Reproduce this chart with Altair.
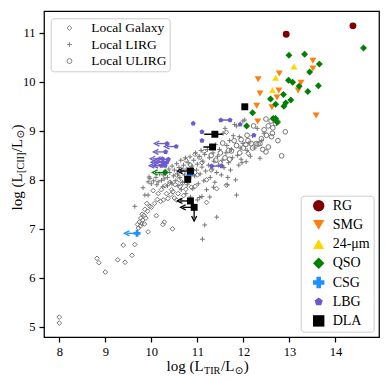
import altair as alt
import pandas as pd

# ---------------- Local samples (gray) ----------------
gal_x = [8.00, 8.00, 8.82, 8.86, 9.00, 9.27, 9.43, 9.58, 9.39, 9.64, 9.93, 10.46, 10.28, 10.25, 10.11,
         9.72, 9.70, 9.76, 9.74, 9.79, 9.81, 9.77, 9.85, 9.84, 9.88, 9.80, 9.86, 9.90, 9.97, 9.92, 10.00,
         10.07, 10.13, 10.20, 10.26, 10.36, 10.42, 10.50, 10.55, 10.63, 10.58, 10.70, 11.20,
         10.04, 10.15, 10.22, 10.33, 10.44, 10.47, 10.62, 10.75, 10.87, 10.95, 10.68, 10.80, 10.52, 10.30, 10.40,
         10.60, 10.70, 10.80, 10.90, 11.00, 11.10, 11.20, 11.30, 10.85, 11.05, 10.75, 10.95, 11.15, 11.42, 11.63,
         12.10, 11.63, 11.50, 10.55, 10.65]
gal_y = [5.20, 5.08, 6.40, 6.31, 6.12, 6.37, 6.32, 6.46, 6.67, 6.68, 6.94, 7.00, 7.14, 7.09, 7.27,
         7.02, 7.09, 7.06, 7.14, 7.11, 7.18, 7.22, 7.10, 7.28, 7.22, 7.30, 7.40, 7.52, 7.46, 7.36, 7.44,
         7.52, 7.60, 7.56, 7.59, 7.62, 7.70, 7.63, 7.59, 7.58, 7.72, 7.68, 7.54,
         7.78, 7.72, 7.80, 7.72, 7.80, 7.76, 7.86, 7.81, 7.85, 7.87, 7.93, 7.96, 7.90, 7.88, 7.95,
         8.00, 8.15, 8.06, 8.20, 8.10, 8.35, 8.00, 8.20, 8.30, 8.45, 8.40, 8.52, 8.58, 7.82, 7.89,
         8.54, 8.97, 8.35, 8.10, 8.22]

lirg_x = [9.64, 9.82, 9.86, 9.93, 9.97, 9.93, 10.00, 9.95,
          10.05, 10.10, 10.15, 10.18, 10.22, 10.26, 10.28, 10.12, 10.30, 10.25,
          10.35, 10.38, 10.40, 10.42, 10.45, 10.48, 10.50, 10.52, 10.55, 10.57, 10.58, 10.60, 10.45, 10.35,
          10.62, 10.64, 10.66, 10.68, 10.70, 10.72, 10.74, 10.76, 10.78, 10.80, 10.82, 10.84, 10.86, 10.88, 10.90, 10.65, 10.75, 10.85,
          10.92, 10.94, 10.96, 10.98, 11.00, 11.02, 11.04, 11.06, 11.08, 11.10, 11.12, 11.14, 11.16, 11.18, 11.05, 11.10, 11.16, 11.11, 11.20, 11.00,
          11.22, 11.24, 11.26, 11.28, 11.30, 11.32, 11.34, 11.36, 11.38, 11.40, 11.42, 11.44, 11.46, 11.48, 11.27, 11.42, 11.35,
          11.52, 11.54, 11.56, 11.58, 11.60, 11.62, 11.64, 11.66, 11.68, 11.70, 11.72, 11.74, 11.76, 11.78, 11.65,
          11.81, 11.83, 11.85, 11.85, 11.87, 11.90, 11.91, 11.93, 11.95, 11.97, 11.99, 11.99, 12.03, 12.06, 12.08,
          12.12, 12.15, 12.20, 12.25, 12.30, 12.36, 12.40, 12.45]
lirg_y = [7.46, 7.84, 7.69, 7.69, 8.03, 7.96, 7.92, 8.06,
          7.98, 8.05, 7.96, 8.12, 7.99, 8.10, 8.02, 7.90, 8.18, 7.86,
          8.05, 8.22, 8.15, 7.95, 8.28, 8.08, 8.20, 7.98, 8.33, 8.12, 7.88, 8.25, 7.92, 7.88,
          8.05, 8.40, 8.18, 7.95, 8.30, 8.10, 8.45, 8.22, 7.90, 8.35, 8.02, 8.47, 8.15, 8.28, 7.82, 7.80, 7.72, 7.65,
          8.40, 8.08, 8.55, 8.20, 8.32, 7.92, 8.48, 8.12, 8.60, 8.26, 8.38, 7.98, 8.52, 8.18, 7.64, 7.66, 7.08, 6.79, 7.80, 7.59,
          8.62, 8.30, 8.45, 8.05, 8.68, 8.22, 8.55, 8.38, 7.95, 8.72, 8.15, 8.48, 8.30, 8.62, 7.65, 7.24, 7.85,
          8.10, 8.40, 8.95, 8.25, 9.05, 8.55, 8.70, 8.05, 8.35, 8.80, 8.20, 8.62, 8.45, 8.90, 7.90,
          9.13, 8.00, 9.10, 7.69, 8.50, 8.30, 8.88, 8.65, 8.42, 8.35, 9.20, 8.74, 9.22, 8.37, 8.60,
          8.75, 8.48, 8.90, 8.65, 9.05, 8.44, 8.80, 8.95]

ulirg_x = [12.49, 12.22, 12.08, 12.54, 12.64, 12.50, 12.63, 12.61, 12.91, 12.39, 12.36, 12.32, 12.28, 12.54,
           12.49, 12.83, 11.92, 12.17, 11.74, 12.60, 12.70, 12.45, 12.75, 12.20, 12.42, 11.85, 11.95, 12.05,
           11.60, 11.68, 11.50, 11.40, 11.55, 11.80, 12.00, 12.65, 12.75, 11.30, 11.70, 12.10]
ulirg_y = [9.24, 9.10, 8.91, 9.10, 9.06, 8.91, 8.95, 8.88, 8.98, 8.84, 8.74, 8.73, 8.74, 8.67,
           8.57, 8.49, 8.55, 8.74, 8.59, 9.20, 9.15, 9.02, 8.80, 8.65, 8.62, 8.70, 8.82, 8.72,
           8.45, 8.60, 8.55, 8.40, 8.75, 8.80, 8.65, 9.25, 9.18, 8.50, 8.42, 8.80]

# ---------------- High-z samples ----------------
rg_x = [12.93, 14.38]
rg_y = [10.97, 11.14]
smg_x = [13.51, 13.51, 12.78, 12.32, 13.25, 13.19, 12.77, 12.36, 12.73, 12.29, 12.62, 13.58, 12.31]
smg_y = [10.43, 10.27, 10.17, 10.05, 9.98, 9.82, 9.82, 9.76, 9.68, 9.51, 9.48, 9.31, 9.19]
mips_x = [13.10, 12.70, 12.63]
mips_y = [10.31, 10.08, 9.83]
qso_x = [14.61, 12.99, 13.33, 13.65, 13.44, 12.98, 13.07, 13.21, 13.63, 13.40, 12.87, 12.59, 13.03,
         12.92, 12.70, 12.88, 12.20, 12.70, 12.65, 12.73, 12.07, 10.30]
qso_y = [10.69, 10.54, 10.56, 10.36, 10.20, 10.03, 9.99, 9.91, 9.92, 9.80, 9.74, 9.65, 9.63,
         9.57, 9.54, 9.50, 9.37, 9.25, 9.25, 9.18, 9.10, 8.15]
csg_x = [10.84, 9.69]
csg_y = [8.10, 6.91]
lbg_x = [10.91, 11.10, 11.10, 11.93, 12.23, 10.34, 10.54, 10.31, 10.24, 10.37, 10.26, 10.34, 10.22, 10.30,
         11.51, 11.71, 11.31, 11.53]
lbg_y = [9.15, 8.98, 8.80, 9.13, 8.91, 8.74, 8.68, 8.57, 8.43, 8.42, 8.36, 8.36, 8.29, 8.29,
         9.22, 9.22, 8.28, 8.28]
dla_x = [12.03, 11.38, 11.33, 10.85, 10.79, 10.85, 10.93]
dla_y = [9.49, 8.93, 8.67, 8.18, 8.01, 7.57, 7.44]

# upper limits on L_TIR (left arrows)
lim_t = ["QSO", "CSG", "LBG", "LBG", "LBG", "LBG", "LBG", "LBG", "LBG", "LBG", "LBG", "DLA", "DLA", "DLA"]
lim_x = [10.30, 9.69, 10.34, 10.54, 10.31, 10.24, 10.37, 10.26, 10.34, 10.22, 10.30, 10.85, 10.85, 10.93]
lim_xe = [10.08, 9.47, 10.12, 10.34, 10.10, 10.03, 10.15, 10.05, 10.13, 10.01, 10.09, 10.62, 10.62, 10.69]
lim_y = [8.15, 6.91, 8.74, 8.68, 8.57, 8.43, 8.42, 8.36, 8.36, 8.29, 8.29, 8.18, 7.57, 7.44]
# horizontal ranges / error bars
rng_t = ["LBG", "LBG", "DLA", "DLA"]
rng_lo = [11.51, 11.31, 11.15, 11.13]
rng_hi = [11.71, 11.53, 11.55, 11.40]
rng_y = [9.22, 8.28, 8.93, 8.67]
# upper limit on L_[CII] (down arrow)
vlim_t = ["DLA"]
vlim_x = [10.93]
vlim_y = [7.44]
vlim_ye = [7.21]

local_names = ["Local Galaxy", "Local LIRG", "Local ULIRG"]
types = ["RG", "SMG", "24-μm", "QSO", "CSG", "LBG", "DLA"]
type_colors = ["#800000", "#ff7f0e", "#ffd700", "#008000", "#1e90ff", "#6a5acd", "#000000"]

PLUS = "M-1,0L1,0M0,-1L0,1"
PENT = "M0,-0.75L0.713,-0.232L0.441,0.607L-0.441,0.607L-0.713,-0.232Z"
CHEV_L = "M1,-1L-1,0L1,1"
CHEV_D = "M-1,-1L0,1L1,-1"
type_shapes = ["circle", "triangle-down", "triangle-up", "diamond", "cross", PENT, "square"]

gray_df = pd.concat([
    pd.DataFrame({"x": gal_x, "y": gal_y, "g": local_names[0]}),
    pd.DataFrame({"x": lirg_x, "y": lirg_y, "g": local_names[1]}),
    pd.DataFrame({"x": ulirg_x, "y": ulirg_y, "g": local_names[2]}),
], ignore_index=True)

hz_df = pd.concat([
    pd.DataFrame({"x": xs, "y": ys, "t": t})
    for xs, ys, t in [(rg_x, rg_y, "RG"), (smg_x, smg_y, "SMG"), (mips_x, mips_y, "24-μm"),
                      (qso_x, qso_y, "QSO"), (csg_x, csg_y, "CSG"), (lbg_x, lbg_y, "LBG"),
                      (dla_x, dla_y, "DLA")]
], ignore_index=True)

lim_df = pd.DataFrame({"x": lim_x, "xe": lim_xe, "y": lim_y, "t": lim_t})
rng_df = pd.DataFrame({"x": rng_lo, "xe": rng_hi, "y": rng_y, "t": rng_t})
vlim_df = pd.DataFrame({"x": vlim_x, "y": vlim_y, "ye": vlim_ye, "t": vlim_t})

XS = alt.Scale(domain=[7.668, 14.946], nice=False, zero=False)
YS = alt.Scale(domain=[4.796, 11.443], nice=False, zero=False)
SERIF = "Liberation Serif"

xaxis = alt.Axis(values=[8, 9, 10, 11, 12, 13, 14], format="d", title=None, grid=False, domain=False,
                 tickSize=5, tickWidth=1.25, tickColor="black", labelFont=SERIF, labelFontSize=12.5,
                 labelColor="black", labelPadding=3)
yaxis = alt.Axis(values=[5, 6, 7, 8, 9, 10, 11], format="d", title=None, grid=False, domain=False,
                 tickSize=5, tickWidth=1.25, tickColor="black", labelFont=SERIF, labelFontSize=12.5,
                 labelColor="black", labelPadding=4)


def X(f):
    return alt.X(f, scale=XS, axis=xaxis)


def Y(f):
    return alt.Y(f, scale=YS, axis=yaxis)


tcol = alt.Scale(domain=types, range=type_colors)

leg1 = alt.Legend(orient="none", legendX=6.7, legendY=7.3, title=None, labelFont=SERIF,
                  labelFontSize=13.5, labelColor="black", symbolSize=24, symbolStrokeWidth=0.9,
                  symbolStrokeColor="#777777", symbolFillColor="white", padding=3, rowPadding=1.5,
                  symbolOffset=9, labelOffset=15, strokeColor="#cccccc", fillColor="white",
                  cornerRadius=3)
leg2 = alt.Legend(orient="none", legendX=256.7, legendY=184.7, title=None, labelFont=SERIF,
                  labelFontSize=14, labelColor="black", symbolSize=130, symbolStrokeWidth=0,
                  padding=3, rowPadding=5.2, symbolOffset=8, labelOffset=7, strokeColor="#cccccc",
                  fillColor="white", cornerRadius=3)

gray = alt.Chart(gray_df).mark_point(filled=False, size=22, strokeWidth=1.0, opacity=1).encode(
    x=X("x:Q"), y=Y("y:Q"),
    shape=alt.Shape("g:N", scale=alt.Scale(domain=local_names, range=["diamond", PLUS, "circle"]),
                    legend=leg1),
    color=alt.value("#777777"),
)

lim_rule = alt.Chart(lim_df).mark_rule(strokeWidth=1.3).encode(
    x=X("x:Q"), x2="xe:Q", y=Y("y:Q"), color=alt.Color("t:N", scale=tcol, legend=None))
lim_head = alt.Chart(lim_df).mark_point(shape=CHEV_L, filled=False, size=26, strokeWidth=1.3, opacity=1).encode(
    x=X("xe:Q"), y=Y("y:Q"), color=alt.Color("t:N", scale=tcol, legend=None))
rng_rule = alt.Chart(rng_df).mark_rule(strokeWidth=1.5).encode(
    x=X("x:Q"), x2="xe:Q", y=Y("y:Q"), color=alt.Color("t:N", scale=tcol, legend=None))
vlim_rule = alt.Chart(vlim_df).mark_rule(strokeWidth=1.3).encode(
    x=X("x:Q"), y=Y("y:Q"), y2="ye:Q", color=alt.Color("t:N", scale=tcol, legend=None))
vlim_head = alt.Chart(vlim_df).mark_point(shape=CHEV_D, filled=False, size=26, strokeWidth=1.3, opacity=1).encode(
    x=X("x:Q"), y=Y("ye:Q"), color=alt.Color("t:N", scale=tcol, legend=None))

hz = alt.Chart(hz_df).mark_point(filled=True, size=48, opacity=1, strokeWidth=0).encode(
    x=X("x:Q"), y=Y("y:Q"),
    shape=alt.Shape("t:N", scale=alt.Scale(domain=types, range=type_shapes), legend=leg2),
    color=alt.Color("t:N", scale=tcol, legend=leg2),
)


def txt(s, x, y, size, angle=0, font=SERIF):
    return alt.Chart(pd.DataFrame({"s": [s]})).mark_text(
        align="left", baseline="alphabetic", fontSize=size, font=font, angle=angle, color="black"
    ).encode(text="s:N", x=alt.value(x), y=alt.value(y))


MAIN = 15
SUB = 10.2
XB, XSB = 360, 363      # x-title baselines (main, subscript)
YB, YSB = -22.3, -19.7  # y-title baselines (main, subscript)
titles = [
    # x title: log (L_TIR / L_sun)
    txt("log (L", 122.5, XB, MAIN), txt("TIR", 160.0, XSB, SUB), txt("/L", 177.0, XB, MAIN),
    txt("⊙", 190.8, XSB, SUB, font="DejaVu Sans"), txt(")", 199.8, XB, MAIN),
    # y title: log (L_[CII] / L_sun)
    txt("log (L", YB, 199.5, MAIN, 270), txt("[CII]", YSB, 162.0, SUB, 270),
    txt("/L", YB, 141.2, MAIN, 270), txt("⊙", YSB, 127.4, SUB, 270, font="DejaVu Sans"),
    txt(")", YB, 118.6, MAIN, 270),
]

chart = alt.layer(gray, lim_rule, lim_head, rng_rule, vlim_rule, vlim_head, hz, *titles).resolve_scale(
    color="independent", shape="independent"
).properties(
    width=335, height=326,
    padding={"left": 36, "top": 3, "right": 4, "bottom": 44},
    autosize=alt.AutoSizeParams(type="none"),
    background="white",
).configure_view(stroke="black", strokeWidth=1.25)

chart.save("out.html", embed_options={"renderer": "svg", "actions": False})
